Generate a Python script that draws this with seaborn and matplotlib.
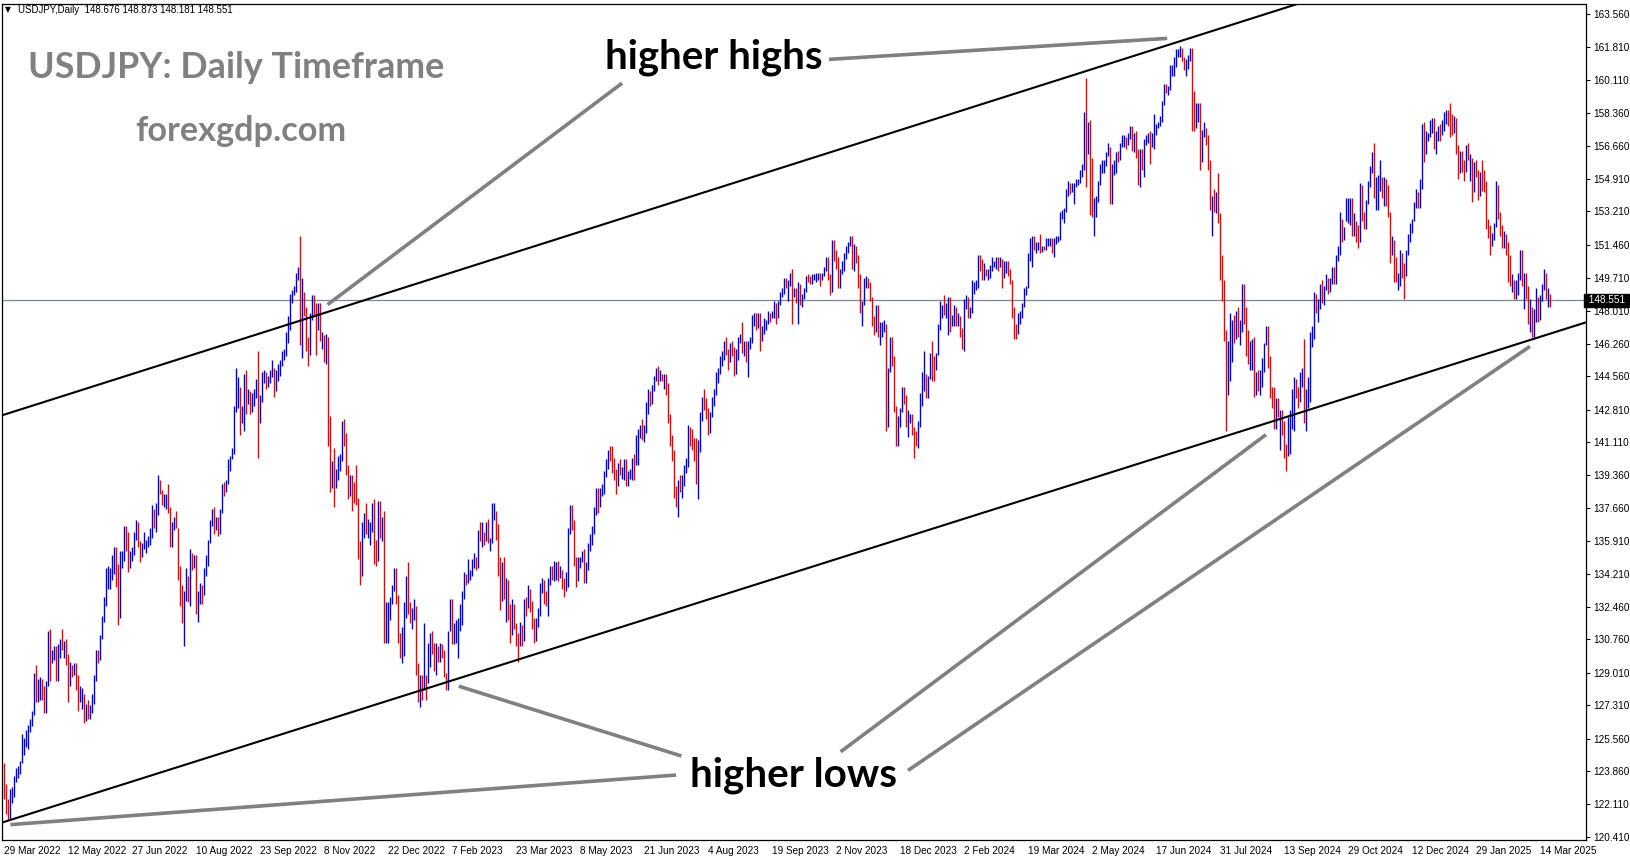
import numpy as np
import pandas as pd
import matplotlib
matplotlib.use("Agg")
import matplotlib.pyplot as plt
import matplotlib.transforms as mtransforms
import seaborn as sns

# ---- datos (USDJPY diario, 29 Mar 2022 - 21 Mar 2025) ----
HEADER = "USDJPY,Daily  148.676 148.873 148.181 148.551"
LAST_PRICE = 148.551
FIRST_OPEN = 123.8

# una linea por mes
HIGHS = """
124.3 123.2 122.4
122.9 123.0 123.6 124.0 124.1 124.4 125.8 125.6 126.0 126.3 126.6 127.0 129.0 129.4 128.7 128.8 128.7 128.3 128.6 131.2 131.3
130.2 130.4 130.4 130.5 130.8 131.3 130.7 130.8 130.0 129.6 129.4 129.5 129.5 128.9 128.3 128.2 127.9 127.4 127.6 127.3 127.9 128.9
130.2 130.2 131.0 132.0 133.0 134.5 134.6 134.5 135.2 135.6 135.6 134.7 135.4 135.4 136.7 136.7 136.4 135.4 135.6 136.4 137.0 136.9
135.9 135.8 136.4 136.0 136.2 136.6 137.8 137.6 137.9 139.4 139.1 138.6 138.4 138.4 138.9 137.7 136.9 137.2 137.5 136.6 134.6
133.6 133.3 134.5 134.1 135.5 135.3 135.2 135.2 133.3 133.7 133.6 134.5 135.2 136.0 137.0 137.6 137.7 137.2 137.2 137.6 138.9 139.0 139.1
140.2 140.4 140.8 143.0 145.0 144.5 144.0 143.0 144.7 144.9 143.9 143.8 143.7 143.9 144.4 145.9 143.6 144.8 144.9 144.8 144.6 144.9
145.4 145.0 144.9 145.2 145.4 145.9 146.0 146.9 147.7 148.9 149.1 149.3 150.0 150.3 151.9 149.7 149.0 148.2 146.6 147.9 148.8
148.8 148.4 148.4 148.4 146.9 146.7 146.8 146.6 142.5 140.1 140.8 139.7 140.4 140.5 142.2 142.3 141.6 139.9 139.4 139.4 139.0 139.9
138.2 135.9 136.9 137.4 137.9 137.1 136.9 137.9 138.1 136.0 138.0 138.0 137.2 137.5 132.7 132.7 133.0 133.6 134.5 134.5 133.1
131.1 131.4 132.7 134.1 134.8 132.7 132.4 132.9 132.5 129.5 128.9 128.9 131.6 128.9 130.6 131.1 131.2 130.6 130.6 130.4 130.6 130.5
130.2 129.0 131.2 132.9 132.9 131.6 131.8 131.9 132.6 133.3 134.3 134.2 135.0 134.4 135.0 135.3 135.1 136.5 136.9 136.9
136.4 136.9 137.1 136.1 137.9 137.9 137.5 136.8 135.1 134.8 135.1 134.0 133.9 132.6 132.9 132.6 131.6 131.1 131.7 131.5 132.9 133.0 133.6
133.4 132.8 131.9 131.9 132.4 133.7 134.0 133.9 133.3 134.0 134.6 134.6 134.9 134.8 134.9 134.6 134.4 134.0 134.3 136.6
137.8 137.8 137.0 135.1 135.1 135.1 135.4 135.5 134.8 135.8 136.3 136.7 137.7 138.7 138.7 138.7 138.9 139.6 140.2 140.7 140.9 140.9 140.3
139.7 140.0 140.2 139.8 140.2 140.2 139.6 139.7 140.3 140.5 141.5 141.8 142.0 142.3 142.0 143.2 143.9 143.8 144.1 144.6 145.0 145.1
144.9 144.7 144.7 144.7 144.2 142.6 141.5 140.7 138.8 139.1 139.4 139.4 139.9 140.3 142.0 141.9 141.8 141.3 141.3 141.2 142.7
143.5 143.9 143.4 142.9 142.7 143.5 143.9 144.8 145.0 145.6 145.9 146.4 146.6 146.0 146.3 146.4 146.1 146.0 146.6 146.8 147.4 146.4 146.4
146.4 146.6 147.8 147.9 147.9 147.9 147.9 147.2 147.6 147.5 148.0 147.9 148.0 148.5 148.4 148.5 149.0 149.2 149.7 149.7 149.6
150.0 150.2 149.2 149.2 149.5 149.4 148.9 149.2 149.8 149.9 149.8 149.9 149.9 150.0 150.0 150.0 150.0 150.3 150.8 150.8 149.9 151.7
151.7 151.2 150.8 150.2 150.6 151.0 151.4 151.6 151.9 151.9 151.5 151.4 150.9 149.9 148.5 149.7 149.8 149.7 149.5 148.7 147.7 148.3
148.3 147.4 147.4 147.5 147.3 145.0 146.6 146.6 145.6 143.0 142.5 142.9 144.0 144.0 143.6 142.8 142.6 142.6 141.9 141.7
142.2 143.7 144.8 145.9 144.7 144.6 145.8 146.4 145.6 145.8 147.3 148.5 148.3 148.8 148.4 148.7 148.7 147.8 148.3 148.2 147.9 147.7
147.1 148.6 148.8 148.7 148.2 149.6 149.5 149.6 150.9 150.9 150.7 150.5 150.2 150.2 150.4 150.8 150.6 150.8 150.8 150.8 150.7
150.6 150.6 150.6 150.2 149.6 148.2 147.3 147.9 148.0 148.4 149.2 149.3 151.0 151.8 151.9 151.9 151.6 151.6 152.0 151.4 151.4
151.8 151.8 151.8 151.8 151.8 151.9 151.9 153.2 153.3 153.4 154.4 154.8 154.7 154.7 154.7 154.9 154.9 155.4 155.7 158.4 160.2 157.9
158.0 156.0 153.9 154.0 154.8 155.7 155.9 155.9 156.3 156.8 156.6 155.7 155.9 156.3 156.4 156.8 157.2 157.2 157.1 157.3 157.7 157.7 157.3
157.4 156.5 156.5 156.5 157.0 157.2 157.3 157.4 157.3 158.3 157.8 157.9 158.2 159.0 159.9 159.9 159.8 160.9 160.9 161.3
161.7 161.7 161.9 161.8 161.3 161.2 161.4 161.8 161.8 159.5 158.9 158.9 158.9 157.5 157.9 157.6 157.2 155.9 154.0 154.4 154.2 155.2 153.1
150.9 149.6 147.0 146.4 147.9 147.5 147.8 148.0 148.2 147.5 149.4 149.4 148.2 147.0 146.4 146.5 146.6 144.8 144.9 144.9 145.5 146.3
147.2 147.2 145.6 144.0 144.0 143.4 143.4 142.8 142.8 142.2 141.0 142.4 142.8 143.9 144.5 144.4 144.0 144.8 145.0 146.5 143.9
144.5 146.9 147.2 149.0 148.9 148.6 149.4 149.6 149.3 149.9 149.7 149.7 150.3 150.3 150.9 151.4 153.2 152.8 152.4 153.9 153.9 153.9 153.9
153.1 152.7 152.5 154.7 154.6 153.2 153.8 154.8 155.6 156.3 156.8 155.0 155.1 155.9 155.0 155.0 154.9 154.6 153.2 151.9 151.7
150.8 150.0 151.2 151.0 150.5 151.2 152.0 152.6 152.8 153.7 154.4 154.2 154.9 157.8 157.9 157.4 157.3 158.0 158.1 158.1 157.4
157.7 157.8 158.0 158.4 158.5 158.5 158.9 158.3 158.2 158.1 156.7 156.4 156.4 155.9 156.7 156.8 156.2 156.0 155.8 155.9 155.4 155.3
155.9 155.4 154.8 152.8 152.5 152.1 152.6 154.8 154.6 153.2 152.5 152.2 152.0 151.6 150.9 149.9 149.6 149.6 150.0 151.2
151.2 150.0 150.0 149.3 148.6 148.2 148.1 149.2 148.7 148.8 149.4 150.2 150.0 149.2 148.9
"""

LOWS = """
122.4 121.6 121.3
121.3 122.2 122.5 123.3 123.5 123.7 124.3 124.7 125.1 125.0 125.9 126.2 126.8 127.5 127.5 127.6 127.6 126.9 126.9 128.3 128.6
129.5 129.7 128.6 128.6 129.8 130.2 129.8 129.4 127.5 128.3 128.8 128.9 128.1 127.0 127.5 127.1 126.4 126.5 126.6 126.6 126.9 127.4
128.6 129.5 129.7 130.8 131.7 132.5 133.4 133.4 133.9 134.2 133.5 131.5 131.9 134.5 134.9 135.4 134.3 134.5 134.9 135.2 136.0 135.6
134.8 135.1 135.5 135.3 135.6 135.7 136.1 136.6 136.4 137.3 138.4 137.8 137.7 137.6 137.4 135.6 135.6 136.5 136.6 133.9 132.5
131.6 130.4 132.8 132.7 132.5 134.4 134.5 132.1 131.7 132.6 132.6 133.1 134.1 134.6 135.8 136.7 136.3 136.5 136.2 136.3 137.4 138.3 138.5
138.9 139.6 140.2 140.5 142.7 142.9 141.5 142.1 141.7 142.6 143.1 142.6 142.7 143.0 143.4 140.3 142.1 143.2 144.2 143.9 144.0 144.2
144.5 143.5 143.8 144.3 144.6 145.1 145.4 145.6 146.3 147.0 148.4 148.8 149.0 149.6 146.2 145.5 147.7 145.9 145.1 145.7 147.5
147.8 145.7 147.0 146.4 146.0 145.3 145.2 140.9 138.5 138.7 137.7 138.7 139.1 139.6 140.1 140.9 139.4 138.1 138.3 137.5 137.9 137.8
135.0 133.6 134.1 136.1 136.3 136.1 135.7 136.4 134.7 134.6 134.9 136.1 135.9 130.6 130.6 130.6 131.8 132.6 133.3 132.6 130.6
129.8 129.5 129.9 131.9 132.1 131.6 131.3 131.8 128.9 127.5 127.2 127.6 128.1 127.6 128.5 129.3 130.0 129.1 128.9 129.6 129.6 129.8
128.8 128.1 128.1 131.2 130.5 130.5 130.6 129.8 131.2 131.5 132.9 133.6 133.7 133.9 134.1 134.5 134.4 134.5 135.9 135.6
135.7 135.9 135.8 135.4 135.8 137.0 136.0 134.1 132.3 132.8 132.9 131.7 131.8 130.6 131.0 131.3 130.4 129.6 130.4 130.4 130.7 132.0 132.4
132.2 131.3 130.6 130.7 131.4 132.0 133.2 132.6 132.5 132.0 133.6 133.9 133.8 133.9 133.8 134.0 133.4 133.0 133.3 133.5
136.3 136.5 134.6 133.5 133.8 134.5 134.8 133.7 133.7 134.4 135.4 135.7 136.3 137.3 137.4 137.7 138.3 138.4 139.3 139.7 140.1 139.5 139.1
138.4 138.8 139.4 139.2 139.1 138.8 138.8 139.2 139.1 139.1 139.9 139.9 141.3 141.2 141.1 141.6 142.6 143.0 143.1 143.8 144.3 144.1
144.3 144.3 143.9 143.6 142.1 140.9 140.1 138.2 137.7 137.2 138.5 138.2 138.8 139.5 139.8 140.9 140.7 140.1 138.9 138.1 140.6
142.2 142.8 142.3 141.5 141.6 142.4 143.0 143.6 144.2 144.7 145.1 145.4 145.7 144.9 145.3 145.6 144.6 144.7 145.4 146.3 145.8 145.6 145.3
144.5 146.0 146.3 147.2 147.0 147.1 145.9 146.4 146.8 147.0 147.3 147.4 147.6 147.6 147.3 147.6 148.3 148.7 148.9 149.2 148.5
149.3 147.3 148.7 148.4 147.3 148.3 148.2 148.6 149.0 149.5 149.4 149.4 149.6 149.5 149.6 149.3 149.6 149.8 150.1 149.6 148.8 149.0
150.6 150.2 149.2 149.2 149.9 150.1 150.7 151.0 151.4 150.2 150.1 150.5 149.2 147.9 147.2 148.3 149.2 149.2 148.5 147.2 146.7 146.9
146.6 146.2 146.6 146.9 141.7 141.9 144.8 145.1 142.7 140.9 140.9 141.9 142.7 143.1 141.9 141.4 142.1 141.5 140.3 140.9
140.8 141.9 143.0 143.8 143.4 143.4 144.4 144.3 144.3 144.9 145.7 147.0 147.6 147.8 147.6 146.7 146.9 147.2 147.2 147.2 147.2 146.6
146.0 145.9 148.1 147.6 147.6 147.9 148.9 149.1 149.2 150.1 149.6 149.6 149.8 149.6 149.7 150.1 150.3 150.2 150.1 150.3 149.2
149.7 150.0 149.8 149.4 147.6 146.5 146.5 146.8 147.3 147.6 148.2 148.8 149.2 150.6 150.3 151.2 151.0 151.2 151.0 151.1 151.2
151.2 151.4 151.4 151.0 150.8 151.5 151.6 151.7 152.8 152.6 153.2 154.0 154.1 154.2 153.6 154.5 154.6 154.7 155.0 155.4 154.5 156.2
153.0 152.9 151.9 152.9 153.7 154.6 155.2 155.2 155.6 156.1 153.6 153.6 155.1 155.2 155.8 155.9 156.6 156.6 156.5 156.7 157.0 156.4 156.3
156.0 154.6 154.5 155.4 155.0 156.7 156.8 155.7 156.6 156.5 157.2 157.6 157.7 157.9 158.8 159.4 159.3 159.6 160.3 160.3
160.8 161.3 161.3 161.1 160.6 160.3 160.7 161.1 157.4 157.4 157.6 157.9 155.4 155.8 157.1 156.7 155.4 153.3 151.9 153.2 153.1 152.6 149.6
148.5 146.4 141.7 143.6 144.3 145.3 146.3 146.5 146.6 146.2 146.9 147.3 145.6 145.2 144.9 144.9 143.5 143.6 143.8 143.6 144.0 144.8
146.2 145.0 143.4 142.9 141.8 141.8 142.4 140.7 141.5 140.3 139.6 140.4 140.5 141.8 141.7 143.4 142.9 143.2 144.0 142.1 141.7
142.9 143.2 146.1 146.5 147.9 147.4 148.1 148.4 148.3 149.1 148.9 149.0 149.4 149.4 149.4 150.6 150.9 151.6 151.7 152.7 152.6 152.5 151.9
151.9 151.6 151.3 151.6 152.7 152.3 152.3 153.6 154.5 155.2 153.9 153.3 153.3 154.3 153.9 153.5 153.5 152.9 150.5 150.9 149.5
149.5 149.1 149.3 149.7 148.6 149.8 150.9 151.6 152.1 152.7 153.4 153.4 153.4 154.4 155.8 156.2 156.9 157.1 157.3 156.5 156.2
156.9 156.9 157.2 157.4 157.8 157.7 157.1 157.2 157.3 156.2 154.9 155.2 155.3 154.8 155.3 155.9 154.8 153.7 154.2 155.0 153.8 154.0
154.3 154.2 152.3 151.8 150.9 151.4 151.7 152.4 152.8 151.9 151.3 151.3 150.9 149.5 149.3 149.0 148.6 148.6 148.8 149.6
149.3 148.1 148.6 147.3 146.9 146.6 146.5 147.4 147.4 147.5 148.5 149.1 148.6 148.2 148.2
"""

CLOSES = """
122.8 121.8 121.7
122.5 122.8 123.6 123.8 123.9 124.3 125.4 125.4 125.4 126.0 126.4 126.9 128.9 127.9 128.4 128.5 128.1 127.2 128.4 130.9 129.7
130.1 130.1 129.1 130.2 130.6 130.3 130.4 129.9 128.4 129.2 129.1 129.4 128.2 127.8 127.9 127.9 126.9 127.3 127.1 127.1 127.6 128.7
130.1 129.9 130.9 131.9 132.6 134.2 134.4 134.4 134.4 135.4 134.0 132.2 135.0 135.1 136.6 136.2 134.9 135.2 135.4 136.1 136.6 135.7
135.2 135.7 135.9 135.9 136.0 136.1 137.4 136.9 137.4 138.9 138.5 138.1 138.2 138.2 137.4 136.1 136.7 136.9 136.6 134.3 133.2
131.6 133.2 133.9 133.0 135.0 134.9 135.0 132.9 133.0 133.4 133.3 134.2 135.0 135.9 137.0 137.5 136.8 137.1 136.6 137.5 138.8 138.7 138.9
140.2 140.2 140.5 142.8 144.0 144.1 142.5 142.8 144.6 143.2 143.5 142.9 143.2 143.7 144.1 142.4 143.4 144.7 144.8 144.1 144.5 144.7
144.9 144.1 144.6 145.1 145.3 145.7 145.8 146.9 147.2 148.7 149.0 149.2 149.9 150.1 147.6 148.9 147.9 146.4 146.3 147.5 148.7
148.2 147.9 148.3 146.6 146.6 145.6 146.4 141.0 138.8 139.9 139.3 139.5 140.2 140.4 142.0 141.2 139.6 138.5 139.2 138.9 138.7 138.1
135.3 134.3 136.8 137.0 136.6 136.6 136.6 137.7 135.6 135.5 137.8 136.6 136.9 131.7 132.4 132.4 132.8 133.5 134.4 133.1 131.1
130.7 131.0 132.2 134.0 132.1 131.9 132.2 132.4 129.2 127.9 128.5 128.1 128.9 128.4 129.6 130.7 130.2 129.2 130.2 129.9 130.4 130.1
128.9 128.6 131.2 132.6 131.1 131.4 131.4 131.4 132.4 133.1 134.1 133.9 134.2 134.2 134.9 134.9 134.7 136.4 136.2 136.2
136.1 136.7 135.9 135.9 137.2 137.3 136.1 134.9 133.2 134.2 133.4 133.7 131.8 131.3 132.5 131.4 130.9 130.7 131.4 130.9 132.8 132.7 132.8
132.5 131.7 131.3 131.8 132.2 133.6 133.7 133.1 132.6 133.8 134.5 134.1 134.7 134.7 134.1 134.3 133.7 133.6 133.6 136.3
137.5 136.6 134.7 134.3 134.8 135.1 135.2 134.3 134.5 135.7 136.1 136.4 137.6 138.7 138.0 138.6 138.6 139.5 139.9 140.6 140.4 139.8 139.3
138.8 140.0 139.6 139.6 140.1 139.0 139.4 139.6 140.2 140.0 140.3 141.8 141.9 141.5 141.9 143.1 143.7 143.5 144.0 144.4 144.8 144.3
144.7 144.5 144.6 144.1 142.1 141.3 140.4 138.5 138.0 138.8 138.7 139.2 139.7 140.0 141.8 141.5 140.9 140.2 139.5 141.2 142.3
143.4 143.3 142.6 141.8 142.5 143.4 143.8 144.7 144.9 145.6 145.6 146.4 145.8 145.4 146.2 145.9 144.8 145.8 146.4 146.6 145.9 146.2 145.5
146.2 146.5 147.7 147.7 147.3 147.8 146.6 147.1 147.4 147.4 147.8 147.6 147.9 148.4 147.6 148.4 148.9 149.1 149.6 149.3 149.4
149.9 149.0 149.1 148.5 149.3 148.5 148.7 149.1 149.8 149.6 149.5 149.8 149.8 149.9 149.9 149.7 149.9 150.2 150.4 149.6 149.1 151.7
150.9 150.5 149.4 150.0 150.4 150.9 151.3 151.5 151.7 150.4 151.4 150.7 149.6 148.3 148.4 149.5 149.6 149.4 148.6 147.4 147.2 148.2
146.8 147.2 147.2 147.3 144.2 144.9 146.2 145.4 142.9 141.9 142.2 142.8 143.8 143.5 142.1 142.4 142.4 141.8 141.4 141.0
141.9 143.3 144.6 144.6 144.2 144.5 145.7 145.3 144.9 145.7 147.2 148.2 148.2 148.1 148.1 148.4 147.5 147.6 148.1 147.4 147.6 146.9
146.4 148.4 148.6 147.9 148.0 149.3 149.3 149.4 150.8 150.6 149.9 150.2 150.0 150.0 150.3 150.5 150.5 150.7 150.5 150.7 149.9
150.1 150.5 150.0 149.4 148.0 147.1 146.9 147.7 147.8 148.3 149.0 149.1 150.9 151.3 151.6 151.4 151.4 151.5 151.3 151.4 151.3
151.6 151.6 151.6 151.4 151.6 151.8 151.8 153.2 153.2 153.3 154.2 154.6 154.4 154.6 154.6 154.8 154.8 155.3 155.6 158.3 156.4 157.8
155.2 153.0 153.0 153.9 154.7 155.5 155.5 155.8 156.2 156.4 154.9 155.4 155.7 156.3 156.2 156.8 157.0 157.0 156.8 157.2 157.6 156.8 157.3
156.1 154.8 156.1 155.6 156.7 157.0 157.1 156.7 157.0 157.4 157.7 157.8 158.1 158.9 159.8 159.7 159.7 160.8 160.8 160.9
161.5 161.5 161.7 161.2 160.8 160.8 161.3 161.6 159.0 157.9 158.1 158.3 156.2 157.4 157.5 157.0 155.6 153.9 153.9 153.8 153.9 152.7 150.0
149.4 146.5 144.2 144.3 146.8 147.2 146.6 147.2 146.8 147.3 149.3 147.6 146.6 145.3 145.3 146.3 144.4 144.5 144.0 144.6 145.0 146.2
146.9 145.5 143.7 143.4 142.3 143.1 142.4 142.4 141.8 140.8 140.6 142.3 142.3 142.6 143.9 143.6 143.2 144.8 144.8 142.2 143.6
143.6 146.5 146.9 148.7 148.2 148.2 149.3 148.6 149.1 149.8 149.2 149.6 150.1 149.5 150.8 151.0 152.7 151.8 152.3 153.3 153.4 153.4 152.0
152.9 152.1 151.6 154.6 152.9 152.6 153.7 154.6 155.5 156.3 154.3 154.7 154.7 155.4 154.5 154.8 154.2 153.1 151.1 151.6 149.8
149.6 149.6 150.6 150.1 150.0 151.2 151.9 152.4 152.7 153.6 154.1 153.5 154.7 157.4 156.4 157.2 157.2 157.8 157.9 156.9 157.2
157.4 157.3 157.6 158.0 158.3 158.1 157.7 157.5 158.0 156.5 155.2 156.3 155.6 155.5 156.5 156.0 156.0 154.5 155.6 155.2 154.3 155.2
155.0 154.4 152.6 152.0 151.4 152.0 152.5 154.4 152.8 152.3 151.5 151.9 151.5 149.9 149.3 149.7 149.0 149.1 149.8 150.6
149.4 149.7 149.0 147.9 148.0 147.2 147.8 148.3 147.8 148.6 149.2 149.3 148.7 148.7 148.55
"""

PRICE_TICKS = [163.560, 161.810, 160.110, 158.360, 156.660, 154.910, 153.210,
               151.460, 149.710, 148.010, 146.260, 144.560, 142.810, 141.110,
               139.360, 137.660, 135.910, 134.210, 132.460, 130.760, 129.010,
               127.310, 125.560, 123.860, 122.110, 120.410]

DATE_LABELS = ["29 Mar 2022", "12 May 2022", "27 Jun 2022", "10 Aug 2022",
               "23 Sep 2022", "8 Nov 2022", "22 Dec 2022", "7 Feb 2023",
               "23 Mar 2023", "8 May 2023", "21 Jun 2023", "4 Aug 2023",
               "19 Sep 2023", "2 Nov 2023", "18 Dec 2023", "2 Feb 2024",
               "19 Mar 2024", "2 May 2024", "17 Jun 2024", "31 Jul 2024",
               "13 Sep 2024", "29 Oct 2024", "12 Dec 2024", "29 Jan 2025",
               "14 Mar 2025"]
DATE_STEP = 32

# lineas del canal (dos puntos: indice de vela, precio)
UPPER_CHANNEL = [(-2, 142.48), (648, 164.13)]
LOWER_CHANNEL = [(0.6, 121.21), (791, 147.39)]

# flechas grises de las anotaciones
POINTERS = [
    ((309.0, 159.93), (161.8, 148.32)),
    ((412.5, 161.18), (581.6, 162.28)),
    ((336.0, 123.65), (3.2, 121.05)),
    ((338.7, 124.65), (227.4, 128.31)),
    ((418.3, 124.87), (631.0, 141.50)),
    ((452.0, 123.89), (763.0, 146.13)),
]


def parse(block):
    return np.array(block.split(), dtype=float)


highs, lows, closes = parse(HIGHS), parse(LOWS), parse(CLOSES)
n = min(len(highs), len(lows), len(closes))
df = pd.DataFrame({"bar": np.arange(n), "high": highs[:n], "low": lows[:n], "close": closes[:n]})
df["open"] = np.r_[FIRST_OPEN, df["close"].values[:-1]]
df["up"] = df["close"] >= df["open"]

sns.set_theme(style="white")
plt.rcParams["font.family"] = ["Liberation Sans", "DejaVu Sans"]

W, H = 1631, 861
fig = plt.figure(figsize=(W / 100, H / 100), dpi=100)
ax = fig.add_axes([2 / W, 1 - 839.5 / H, 1584 / W, 836 / H])
ax.set_facecolor("white")

BLUE, RED = "#0000e6", "#f00000"
colores = np.where(df["up"], BLUE, RED)
velas = ax.vlines(df["bar"], df["low"], df["high"], colors=colores, linewidth=1.0,
                  antialiased=True, zorder=2)
velas.set_snap(True)

ax.axhline(LAST_PRICE, color="#7a8794", lw=0.9, zorder=1)

for pts in (UPPER_CHANNEL, LOWER_CHANNEL):
    ax.axline(pts[0], pts[1], color="black", lw=1.5, zorder=3)

for (x1, y1), (x2, y2) in POINTERS:
    ax.plot([x1, x2], [y1, y2], color="#808080", lw=2.6, solid_capstyle="butt", zorder=4)

ax.set_xlim(-1, 791)
ax.set_ylim(120.27, 164.11)

# eje de precios a la derecha
ax.yaxis.tick_right()
ax.set_yticks(PRICE_TICKS)
ax.set_yticklabels([f"{v:.3f}" for v in PRICE_TICKS])
ax.tick_params(axis="y", direction="out", length=3, width=0.8, pad=2, labelsize=7.2, colors="black")

ticks_x = [i * DATE_STEP for i in range(len(DATE_LABELS))]
ax.set_xticks(ticks_x)
ax.set_xticklabels(DATE_LABELS)
ax.tick_params(axis="x", direction="out", length=4, width=0.8, pad=1, labelsize=7.2, colors="black")
offset = mtransforms.ScaledTranslation(0.5 / 100, 0, fig.dpi_scale_trans)
for lbl in ax.get_xticklabels():
    lbl.set_horizontalalignment("left")
    lbl.set_transform(lbl.get_transform() + offset)

for s in ax.spines.values():
    s.set_color("black")
    s.set_linewidth(0.9)

# etiqueta del precio actual
trans = mtransforms.blended_transform_factory(ax.transAxes, ax.transData)
ax.text(1.0, LAST_PRICE, f" {LAST_PRICE:.3f} ", transform=trans, ha="left", va="center",
        fontsize=7.2, color="white", zorder=6, clip_on=False,
        bbox=dict(boxstyle="square,pad=0.15", fc="black", ec="black"))

# cabecera
fig.text(5 / W, 1 - 10 / H, "▼", fontsize=5.5, color="black", va="center",
         family=["DejaVu Sans"])
fig.text(18 / W, 1 - 10 / H, HEADER, fontsize=7, color="black", va="center")

renderer = fig.canvas.get_renderer()


def texto_ajustado(x_px, y_px, s, ancho_px, color):
    t = fig.text(x_px / W, 1 - y_px / H, s, ha="left", va="center", fontsize=20,
                 fontweight="bold", color=color, family=["Lato", "DejaVu Sans"], zorder=7)
    w = t.get_window_extent(renderer).width
    t.set_fontsize(20 * ancho_px / w)
    return t


texto_ajustado(28, 67, "USDJPY: Daily Timeframe", 417, "#808080")
texto_ajustado(135, 131, "forexgdp.com", 211, "#808080")
texto_ajustado(605, 57, "higher highs", 217, "black")
texto_ajustado(690, 775, "higher lows", 207, "black")

fig.savefig("out.png", dpi=100, facecolor="white")
